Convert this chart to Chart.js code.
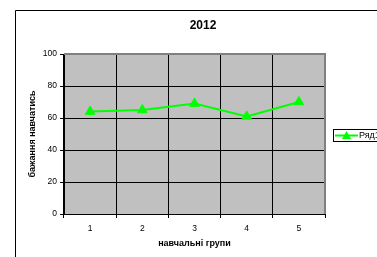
<!DOCTYPE html>
<html lang="uk">
<head>
<meta charset="UTF-8">
<title>2012</title>
<script src="https://cdn.jsdelivr.net/npm/chart.js"></script>
<style>
  body { margin: 0; padding: 0; background: #ffffff; overflow: hidden; }
  canvas { display: block; }
</style>
</head>
<body>
<canvas id="chart" width="377" height="257"></canvas>
<script>
const groups = ["1", "2", "3", "4", "5"];
const wishValues = [64, 65, 69, 61, 70];
const seriesName = "Ряд1";
const chartTitle = "2012";
const yTitle = "бажання навчатись";
const xTitle = "навчальні групи";

const FONT = "Arial, 'Liberation Sans', sans-serif";

// grey plot background, outer frame, title and a hand-drawn legend
const frame = {
  id: "frame",
  beforeDraw(chart) {
    const c = chart.ctx, a = chart.chartArea;
    c.save();
    c.fillStyle = "#ffffff";
    c.fillRect(0, 0, chart.width, chart.height);
    c.strokeStyle = "#000000";
    c.lineWidth = 1;
    c.beginPath();
    c.moveTo(15.5, chart.height);
    c.lineTo(15.5, 10.5);
    c.lineTo(chart.width, 10.5);
    c.stroke();
    c.fillStyle = "#c0c0c0";
    c.fillRect(a.left, a.top, a.right - a.left, a.bottom - a.top);
    c.restore();
  },
  afterDraw(chart) {
    const c = chart.ctx, a = chart.chartArea;
    c.save();
    c.strokeStyle = "#808080";
    c.lineWidth = 2;
    c.beginPath();
    c.moveTo(a.left, a.top);
    c.lineTo(a.right, a.top);
    c.lineTo(a.right, a.bottom);
    c.stroke();
    // title
    c.fillStyle = "#000000";
    c.font = "bold 12px " + FONT;
    c.textAlign = "center";
    c.textBaseline = "middle";
    c.fillText(chartTitle, 203, 26);
    // legend
    c.fillStyle = "#ffffff";
    c.fillRect(333, 129, 60, 12);
    c.strokeStyle = "#000000";
    c.lineWidth = 1;
    c.strokeRect(333.5, 129.5, 60, 12);
    c.strokeStyle = "#00ff00";
    c.lineWidth = 2;
    c.beginPath();
    c.moveTo(335, 135.5);
    c.lineTo(358, 135.5);
    c.stroke();
    c.fillStyle = "#00ff00";
    c.beginPath();
    c.moveTo(346.5, 131);
    c.lineTo(351, 139);
    c.lineTo(342, 139);
    c.closePath();
    c.fill();
    c.fillStyle = "#000000";
    c.font = "9px " + FONT;
    c.textAlign = "left";
    c.fillText(seriesName, 359, 136);
    c.restore();
  }
};

new Chart(document.getElementById("chart"), {
  type: "line",
  data: {
    labels: groups,
    datasets: [{
      label: seriesName,
      data: wishValues,
      borderColor: "#00ff00",
      backgroundColor: "#00ff00",
      borderWidth: 2,
      pointStyle: "triangle",
      pointRadius: 5.5,
      pointBorderWidth: 1,
      fill: false,
      tension: 0
    }]
  },
  options: {
    responsive: false,
    animation: false,
    layout: { padding: { left: 20, right: 52, top: 54, bottom: 8 } },
    plugins: {
      legend: { display: false },
      tooltip: { enabled: false },
      title: { display: false }
    },
    scales: {
      x: {
        offset: true,
        afterFit(s) { s.height = 35; },
        grid: { offset: true, color: "#000000", lineWidth: 1, tickLength: 4, drawTicks: true },
        border: { color: "#000000", width: 1 },
        ticks: {
          color: "#000000",
          padding: 6,
          maxRotation: 0,
          font: { family: FONT, size: 8.5 }
        },
        title: {
          display: true,
          text: xTitle,
          color: "#000000",
          padding: { top: 5, bottom: 0 },
          font: { family: FONT, size: 9, weight: "bold" }
        }
      },
      y: {
        min: 0,
        max: 100,
        afterFit(s) { s.width = 44; },
        grid: { color: "#000000", lineWidth: 1, tickLength: 4 },
        border: { color: "#000000", width: 1 },
        ticks: {
          stepSize: 20,
          color: "#000000",
          padding: 3,
          font: { family: FONT, size: 8.5 }
        },
        title: {
          display: true,
          text: yTitle,
          color: "#000000",
          padding: { top: 7, bottom: 0 },
          font: { family: FONT, size: 9, weight: "bold" }
        }
      }
    }
  },
  plugins: [frame]
});
</script>
</body>
</html>
